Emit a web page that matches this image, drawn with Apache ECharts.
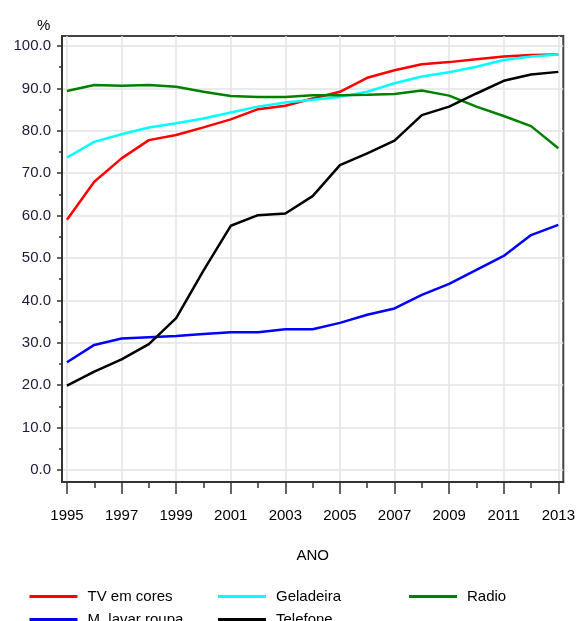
<!DOCTYPE html>
<html>
<head>
<meta charset="utf-8">
<script src="https://cdn.jsdelivr.net/npm/echarts@6/dist/echarts.min.js"></script>
<style>
html,body{margin:0;padding:0;background:#fff;}
#chart{width:578px;height:621px;}
</style>
</head>
<body>
<div id="chart"></div>
<script>
var years = [1995,1996,1997,1998,1999,2000,2001,2002,2003,2004,2005,2006,2007,2008,2009,2010,2011,2012,2013];
var tvEmCores   = [59.0,68.0,73.5,77.8,79.0,80.8,82.7,85.1,85.9,87.6,89.2,92.5,94.3,95.7,96.2,96.9,97.5,97.9,98.0];
var geladeira   = [73.7,77.4,79.2,80.8,81.8,82.9,84.3,85.7,86.7,87.3,88.0,89.2,91.2,92.8,93.8,95.1,96.7,97.5,98.0];
var radio       = [89.4,90.8,90.6,90.8,90.4,89.2,88.2,88.0,88.0,88.4,88.4,88.5,88.7,89.5,88.3,85.7,83.5,81.1,75.9];
var mLavarRoupa = [25.4,29.5,31.0,31.3,31.6,32.1,32.5,32.5,33.2,33.2,34.7,36.6,38.1,41.3,43.9,47.2,50.5,55.4,57.8];
var telefone    = [19.9,23.2,26.1,29.7,35.8,47.0,57.6,60.1,60.5,64.6,71.9,74.7,77.7,83.7,85.7,88.8,91.8,93.3,93.9];

var xMajorTicks = [1995,1997,1999,2001,2003,2005,2007,2009,2011,2013];
var xMinorTicks = [1996,1998,2000,2002,2004,2006,2008,2010,2012];
var yMajorTicks = [0,10,20,30,40,50,60,70,80,90,100];
var yMinorTicks = [5,15,25,35,45,55,65,75,85,95];

var seriesNames = ['TV em cores','Geladeira','Radio','M. lavar roupa','Telefone'];
var seriesValues = [tvEmCores, geladeira, radio, mLavarRoupa, telefone];
var seriesColors = ['#ff0000','#00ffff','#008000','#0000ff','#000000'];

var FONT = 'Liberation Sans, Arial, sans-serif';
var X_MIN = 1994.818, X_MAX = 2013.182, Y_MIN = -2.83, Y_MAX = 102.36;

function pairs(vals){ return years.map(function(y,i){ return [y, vals[i]]; }); }

var series = seriesNames.map(function(n,i){
  return {
    name: n, type: 'line', data: pairs(seriesValues[i]),
    xAxisIndex: 0, yAxisIndex: 0,
    symbol: 'none', showSymbol: false,
    lineStyle: {color: seriesColors[i], width: 2.5},
    itemStyle: {color: seriesColors[i]},
    z: 3
  };
});

function legend(names, left){
  return {
    orient: 'vertical', left: left, top: 584, height: 60, width: 200,
    data: names, icon: 'rect', itemWidth: 48, itemHeight: 3, itemGap: 8,
    textStyle: {fontFamily: FONT, fontSize: 15, color: '#000', padding: [0,0,0,5]},
    selectedMode: false
  };
}

var chart = echarts.init(document.getElementById('chart'), null, {renderer: 'canvas'});
chart.setOption({
  animation: false,
  backgroundColor: '#fff',
  grid: {left: 62, top: 36, right: 12, bottom: 139, show: true, borderColor: '#444', borderWidth: 2, backgroundColor: 'transparent', containLabel: false},
  graphic: [{type: 'text', left: 37, top: 18, style: {text: '%', font: '15px ' + FONT, fill: '#000'}}],
  legend: [
    legend(['TV em cores','M. lavar roupa'], 24.5),
    legend(['Geladeira','Telefone'], 213),
    legend(['Radio'], 404)
  ],
  xAxis: [{
    type: 'value', min: X_MIN, max: X_MAX, position: 'bottom',
    name: 'ANO', nameLocation: 'middle', nameGap: 66,
    nameTextStyle: {fontFamily: FONT, fontSize: 15, color: '#000'},
    axisLine: {show: true, onZero: false, lineStyle: {color: '#333', width: 2}},
    axisTick: {show: true, customValues: xMajorTicks, length: 12, lineStyle: {color: '#333', width: 1.5}},
    axisLabel: {customValues: xMajorTicks, margin: 26, fontFamily: FONT, fontSize: 15, color: '#000', formatter: function(v){ return String(Math.round(v)); }},
    splitLine: {show: true, lineStyle: {color: '#e3e3e3', width: 1.5}}
  },{
    type: 'value', min: X_MIN, max: X_MAX, position: 'bottom',
    axisLine: {show: false, onZero: false},
    axisTick: {show: true, customValues: xMinorTicks, length: 6, lineStyle: {color: '#333', width: 1.5}},
    axisLabel: {show: false},
    splitLine: {show: false}
  }],
  yAxis: [{
    type: 'value', min: Y_MIN, max: Y_MAX, position: 'left',
    axisLine: {show: true, onZero: false, lineStyle: {color: '#333', width: 2}},
    axisTick: {show: true, customValues: yMajorTicks, length: 5, lineStyle: {color: '#333', width: 1.5}},
    axisLabel: {customValues: yMajorTicks, margin: 11, fontFamily: FONT, fontSize: 15, color: '#1a1a3a', formatter: function(v){ return Number(v).toFixed(1); }},
    splitLine: {show: true, lineStyle: {color: '#e3e3e3', width: 1.5}}
  },{
    type: 'value', min: Y_MIN, max: Y_MAX, position: 'left',
    axisLine: {show: false, onZero: false},
    axisTick: {show: true, customValues: yMinorTicks, length: 3, lineStyle: {color: '#333', width: 1.5}},
    axisLabel: {show: false},
    splitLine: {show: false}
  }],
  series: series
});
</script>
</body>
</html>
